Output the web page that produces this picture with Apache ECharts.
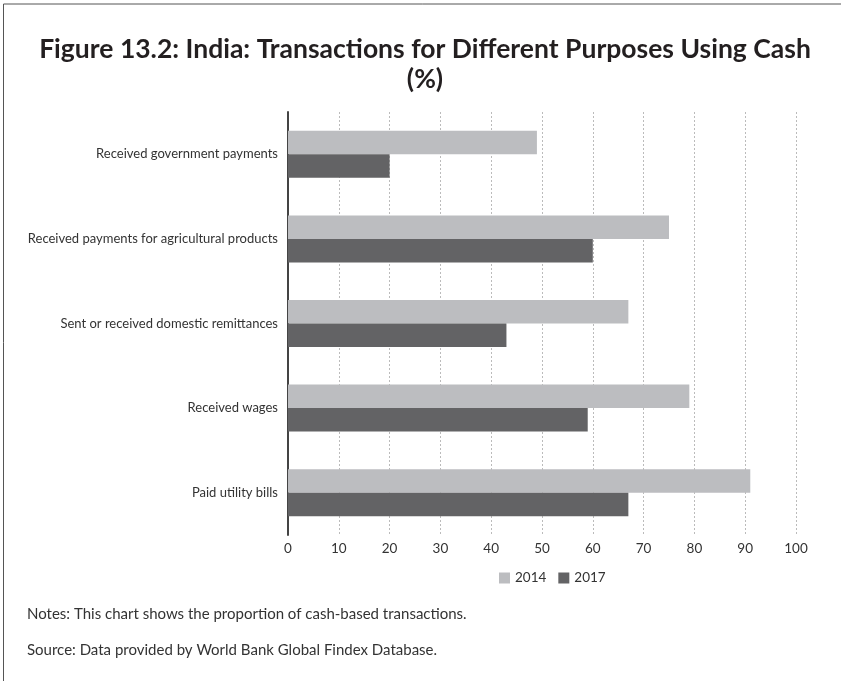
<!DOCTYPE html>
<html>
<head>
<meta charset="utf-8">
<script src="https://cdn.jsdelivr.net/npm/echarts@6/dist/echarts.min.js"></script>
<style>
html,body{margin:0;padding:0;background:#fff;}
#c{width:841px;height:681px;}
</style>
</head>
<body>
<div id="c"></div>
<script>
const categories = [
  "Received government payments",
  "Received payments for agricultural products",
  "Sent or received domestic remittances",
  "Received wages",
  "Paid utility bills"
];
const values2014 = [49, 75, 67, 79, 91];
const values2017 = [20, 60, 43, 59, 67];
const seriesNames = ["2014", "2017"];
const xTicks = {min: 0, max: 100, interval: 10};

const FONT = "Lato";
const chart = echarts.init(document.getElementById('c'), null, {renderer: 'canvas'});
chart.setOption({
  backgroundColor: '#fff',
  animation: false,
  title: {
    text: "Figure 13.2: India: Transactions for Different Purposes Using Cash\n(%)",
    left: 420,
    top: 29,
    textAlign: 'center',
    textStyle: {fontFamily: FONT, fontWeight: 'bold', fontSize: 26.5, lineHeight: 30, color: '#231f20'}
  },
  legend: {
    data: seriesNames,
    top: 566,
    left: 494,
    itemWidth: 11,
    itemHeight: 11,
    itemGap: 12,
    icon: 'rect',
    textStyle: {fontFamily: FONT, fontSize: 13.5, color: '#333'}
  },
  grid: {left: 288, right: 45, top: 112, bottom: 146, containLabel: false},
  xAxis: {
    type: 'value',
    min: xTicks.min, max: xTicks.max, interval: xTicks.interval,
    axisLine: {show: false},
    axisTick: {show: false},
    axisLabel: {fontFamily: FONT, fontSize: 13.5, color: '#333', margin: 7},
    splitLine: {show: true, lineStyle: {color: '#bbb', type: [2, 2], width: 1}}
  },
  yAxis: {
    type: 'category',
    data: categories,
    inverse: true,
    axisLine: {show: true, lineStyle: {color: '#444', width: 2}},
    axisTick: {show: false},
    axisLabel: {fontFamily: FONT, fontSize: 13, color: '#333', margin: 10}
  },
  series: [
    {name: seriesNames[0], type: 'bar', data: values2014, barWidth: 23.5, barGap: '0%',
     itemStyle: {color: '#bcbdc0'}},
    {name: seriesNames[1], type: 'bar', data: values2017, barWidth: 23.5, barGap: '0%',
     itemStyle: {color: '#636365'}}
  ],
  graphic: [
    {type: 'line', shape: {x1: 3.5, y1: 4, x2: 841, y2: 4}, style: {stroke: '#555', lineWidth: 1}},
    {type: 'line', shape: {x1: 3.5, y1: 4, x2: 3.5, y2: 681}, style: {stroke: '#555', lineWidth: 1}},
    {type: 'text', left: 27, top: 607, style: {text: "Notes: This chart shows the proportion of cash-based transactions.", font: "15px Lato", fill: '#333'}},
    {type: 'text', left: 27, top: 643, style: {text: "Source: Data provided by World Bank Global Findex Database.", font: "15px Lato", fill: '#333'}}
  ]
});
</script>
</body>
</html>
